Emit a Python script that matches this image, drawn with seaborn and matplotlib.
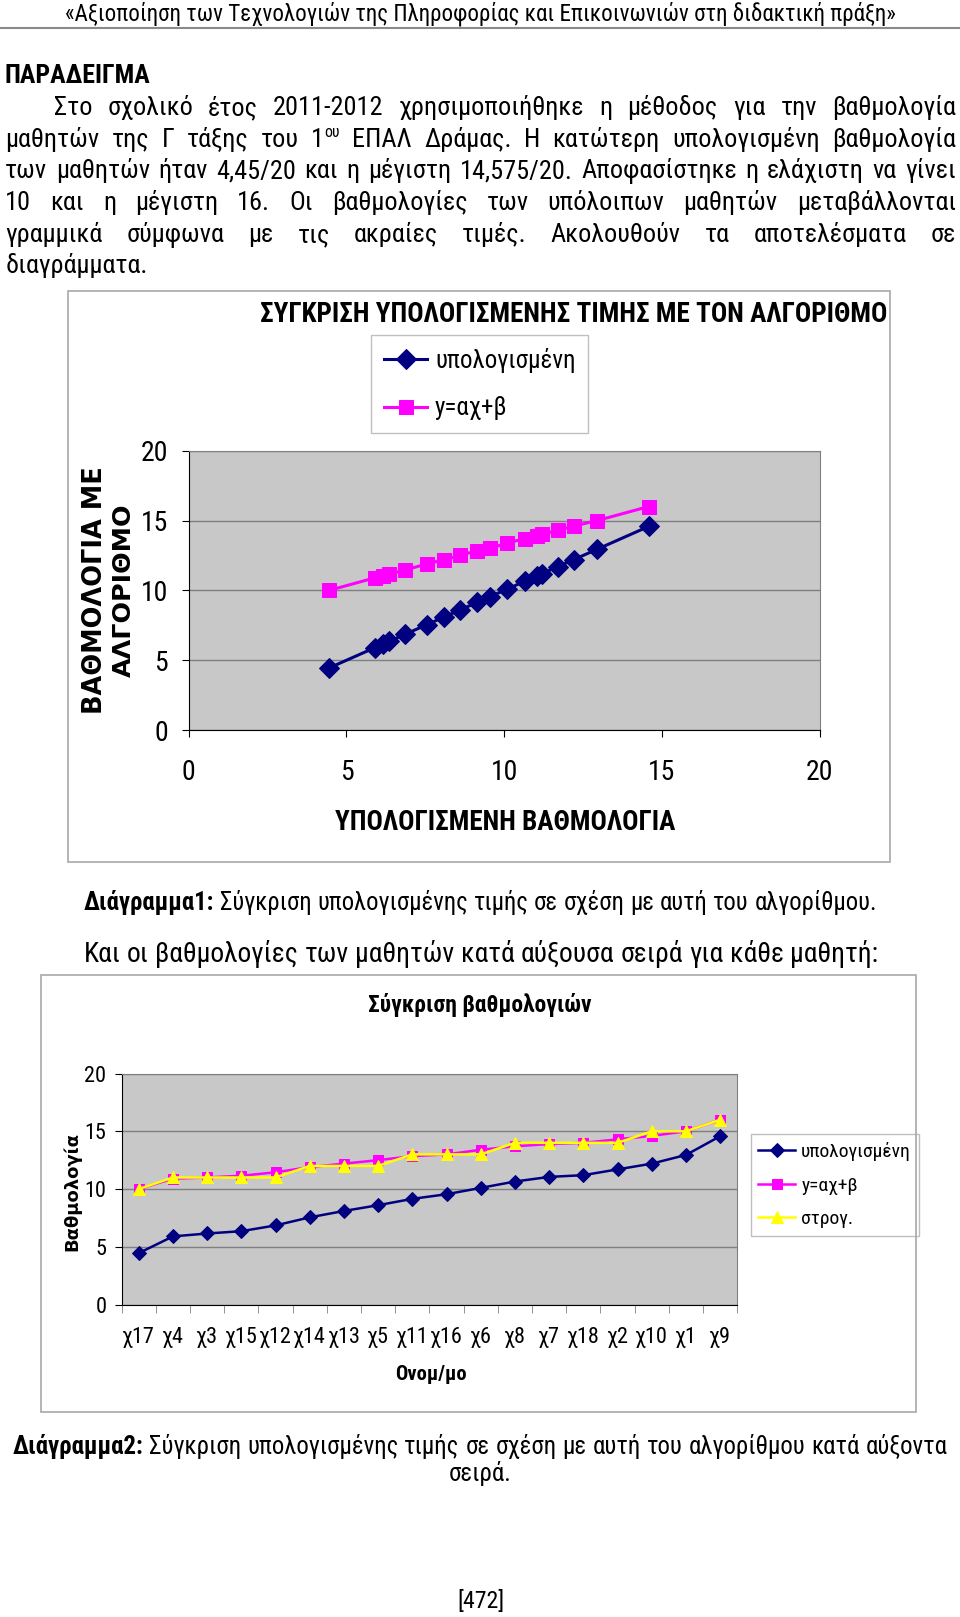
import matplotlib
matplotlib.use("Agg")
import matplotlib.pyplot as plt
import seaborn as sns
import numpy as np
from matplotlib import font_manager
from matplotlib.patches import Rectangle
from matplotlib.lines import Line2D

# values, sorted by calculated grade
students = ["χ17", "χ4", "χ3", "χ15", "χ12", "χ14", "χ13", "χ5", "χ11",
            "χ16", "χ6", "χ8", "χ7", "χ18", "χ2", "χ10", "χ1", "χ9"]
calculated = [4.45, 5.9, 6.15, 6.35, 6.85, 7.55, 8.1, 8.6, 9.15,
              9.55, 10.1, 10.65, 11.05, 11.2, 11.7, 12.2, 12.95, 14.575]
algorithm = [10.0, 10.9, 11.0, 11.15, 11.45, 11.9, 12.2, 12.5, 12.85,
             13.0, 13.4, 13.7, 13.9, 14.0, 14.3, 14.6, 15.0, 16.0]
rounded = [10, 11, 11, 11, 11, 12, 12, 12, 13, 13, 13, 14, 14, 14, 14, 15, 15, 16]
grade_ticks = [0, 5, 10, 15, 20]
series_names = ["υπολογισμένη", "y=αχ+β", "στρογ."]

header = "«Αξιοποίηση των Τεχνολογιών της Πληροφορίας και Επικοινωνιών στη διδακτική πράξη»"
paragraph = [
    "Στο σχολικό έτος 2011-2012 χρησιμοποιήθηκε η μέθοδος για την βαθμολογία",
    "μαθητών της Γ τάξης του 1^ου ΕΠΑΛ Δράμας. Η κατώτερη υπολογισμένη βαθμολογία",
    "των μαθητών ήταν 4,45/20 και η μέγιστη 14,575/20. Αποφασίστηκε η ελάχιστη να γίνει",
    "10 και η μέγιστη 16. Οι βαθμολογίες των υπόλοιπων μαθητών μεταβάλλονται",
    "γραμμικά σύμφωνα με τις ακραίες τιμές. Ακολουθούν τα αποτελέσματα σε",
    "διαγράμματα.",
]
caption1 = "*Διάγραμμα1: Σύγκριση υπολογισμένης τιμής σε σχέση με αυτή του αλγορίθμου."
intro2 = "Και οι βαθμολογίες των μαθητών κατά αύξουσα σειρά για κάθε μαθητή:"
caption2 = "*Διάγραμμα2: Σύγκριση υπολογισμένης τιμής σε σχέση με αυτή του αλγορίθμου κατά αύξοντα"

NAVY, MAG, YEL = "#000080", "#ff00ff", "#ffff00"
PLOT_BG = "#c8c8c8"

avail = {f.name for f in font_manager.fontManager.ttflist}
NARROW = next((f for f in ["Liberation Sans Narrow", "Roboto Condensed", "DejaVu Sans Condensed"]
               if f in avail), "Liberation Sans")
plt.rcParams["font.family"] = [NARROW, "DejaVu Sans"]

fig = plt.figure(figsize=(9.6, 16.17), dpi=100)
r = fig.canvas.get_renderer()
K = 960 / 931  # reference px -> figure px


def fx(x):
    return x / 931


def fy(y):
    return 1 - y / 1568


def seg_kw(size, style):
    kw = dict(fontsize=size * (0.6 if style == "s" else 1), family=[NARROW, "DejaVu Sans"])
    if style == "b":
        kw["fontweight"] = "bold"
    return kw


def seg_width(s, size, style):
    t = fig.text(0, 0, s, **seg_kw(size, style))
    w = t.get_window_extent(r).width
    t.remove()
    return w


def parse(line):
    words = []
    for w in line.split(" "):
        if w.startswith("*"):
            words.append([(w[1:], "b")])
        elif "^" in w:
            a, b = w.split("^")
            words.append([(a, "n"), (b, "s")])
        else:
            words.append([(w, "n")])
    return words


def natural(words, size):
    ws = [sum(seg_width(s, size, st) for s, st in w) for w in words]
    sp = seg_width("x x", size, "n") - seg_width("xx", size, "n")
    return ws, sp


def draw_line(line, x0, x1, y, size, mode="justify"):
    words = parse(line)
    ws, sp = natural(words, size)
    W = (x1 - x0) * K
    if mode == "justify" and len(words) > 1:
        gap = (W - sum(ws)) / (len(words) - 1)
        cur = x0 * K
    else:
        gap = sp
        total = sum(ws) + gap * (len(words) - 1)
        cur = x0 * K if mode == "left" else (x0 + x1) / 2 * K - total / 2
    em = size * 100 / 72
    base = fy(y) - 0.26 * em / 1617
    for w, wd in zip(words, ws):
        c = cur
        for s, st in w:
            yy = base + (0.4 * em / 1617 if st == "s" else 0)
            fig.text(c / 960, yy, s, va="baseline", ha="left", **seg_kw(size, st))
            c += seg_width(s, size, st)
        cur += wd + gap


def fit_size(line, x0, x1):
    ws, sp = natural(parse(line), 20)
    return 20 * (x1 - x0) * K / (sum(ws) + sp * (len(ws) - 1))


def fit_text(s, x0, x1, y, weight="normal", family=None, rotation=0, **kw):
    fam = family or [NARROW, "DejaVu Sans"]
    if rotation:
        t = fig.text(fx(x0), fy((y[0] + y[1]) / 2), s, fontsize=20, family=fam,
                     fontweight=weight, rotation=rotation, ha="center", va="center", **kw)
        h = t.get_window_extent(r).height
        t.set_fontsize(20 * (y[1] - y[0]) * K / h)
        return t
    t = fig.text(fx((x0 + x1) / 2), fy(y), s, fontsize=20, family=fam,
                 fontweight=weight, ha="center", va="center", **kw)
    w = t.get_window_extent(r).width
    t.set_fontsize(20 * (x1 - x0) * K / w)
    return t


# ---- page text ----
fit_text(header, 62, 870, 13)
fig.add_artist(Line2D([0, 1], [fy(27), fy(27)], color="#8a8a8a", lw=1.5))
fit_text("ΠΑΡΑΔΕΙΓΜΑ", 5, 146, 74, weight="bold")

para_size = min(fit_size(l, 5, 927) for l in paragraph[1:5]) * 0.97
para_y = [105, 136, 166, 197, 228, 258]
for i, (line, y) in enumerate(zip(paragraph, para_y)):
    x0 = 52 if i == 0 else 5
    draw_line(line, x0, 927, y, para_size, mode="justify" if i < 5 else "left")

draw_line(caption1, 80, 852, 876, fit_size(caption1, 80, 852), mode="center")
draw_line(intro2, 82, 851, 926, fit_size(intro2, 82, 851), mode="center")
cap2_size = fit_size(caption2, 12, 919)
draw_line(caption2, 12, 919, 1404, cap2_size, mode="justify")
draw_line("σειρά.", 12, 919, 1430, cap2_size, mode="center")
fit_text("[472]", 443, 489, 1553)

# chart frames
for (x0, y0, x1, y1) in [(66, 282, 863, 836), (40, 945, 888, 1369)]:
    fig.add_artist(Rectangle((fx(x0), fy(y1)), fx(x1) - fx(x0), fy(y0) - fy(y1),
                             transform=fig.transFigure, fill=False,
                             edgecolor="#a8a8a8", lw=1.2))


def style_axes(ax):
    ax.set_facecolor(PLOT_BG)
    ax.set_axisbelow(True)
    ax.yaxis.grid(True, color="#7f7f7f", lw=1)
    ax.xaxis.grid(False)
    for s in ["top", "right"]:
        ax.spines[s].set_color("#808080")
    for s in ["left", "bottom"]:
        ax.spines[s].set_color("black")
    ax.set_ylim(0, 20)
    ax.set_yticks(grade_ticks)
    ax.set_xlabel("")
    ax.set_ylabel("")


# ---- chart 1: algorithm grade vs calculated grade ----
ax1 = fig.add_axes([fx(183), fy(708), fx(795) - fx(183), fy(437) - fy(708)])
sns.lineplot(x=calculated, y=calculated, ax=ax1, color=NAVY, marker="D", markersize=10,
             markeredgecolor=NAVY, lw=2.2, sort=False, errorbar=None, label=series_names[0])
sns.lineplot(x=calculated, y=algorithm, ax=ax1, color=MAG, marker="s", markersize=10,
             markeredgecolor=MAG, lw=2.2, sort=False, errorbar=None, label=series_names[1])
style_axes(ax1)
ax1.set_xlim(0, 20)
ax1.set_xticks(grade_ticks)
ax1.tick_params(axis="x", length=5, labelsize=20, pad=16)
ax1.tick_params(axis="y", length=5, labelsize=20, pad=10)
ax1.legend(loc="upper left", bbox_to_anchor=(fx(360), fy(325)), bbox_transform=fig.transFigure,
           borderaxespad=0, fontsize=18, frameon=True, fancybox=False, edgecolor="#c0c0c0",
           framealpha=1, labelspacing=0.95, handlelength=1.75, handletextpad=0.3, borderpad=0.5)

fit_text("ΣΥΓΚΡΙΣΗ ΥΠΟΛΟΓΙΣΜΕΝΗΣ ΤΙΜΗΣ ΜΕ ΤΟΝ ΑΛΓΟΡΙΘΜΟ", 252, 860, 305, weight="bold")
fit_text("ΥΠΟΛΟΓΙΣΜΕΝΗ ΒΑΘΜΟΛΟΓΙΑ", 325, 655, 798, weight="bold")
fit_text("ΒΑΘΜΟΛΟΓΙΑ ΜΕ", 92, None, (452, 692), weight="bold", family="DejaVu Sans", rotation=90)
fit_text("ΑΛΓΟΡΙΘΜΟ", 120, None, (488, 656), weight="bold", family="DejaVu Sans", rotation=90)

# ---- chart 2: grades per student, ascending ----
ax2 = fig.add_axes([fx(118), fy(1265), fx(715) - fx(118), fy(1041) - fy(1265)])
sns.lineplot(x=students, y=calculated, ax=ax2, color=NAVY, marker="D", markersize=7,
             markeredgecolor=NAVY, lw=1.8, sort=False, errorbar=None, label=series_names[0])
sns.lineplot(x=students, y=algorithm, ax=ax2, color=MAG, marker="s", markersize=7,
             markeredgecolor=MAG, lw=1.8, sort=False, errorbar=None, label=series_names[1])
sns.lineplot(x=students, y=rounded, ax=ax2, color=YEL, marker="^", markersize=8,
             markeredgecolor=YEL, lw=1.8, sort=False, errorbar=None, label=series_names[2])
style_axes(ax2)
ax2.set_xlim(-0.5, len(students) - 0.5)
ax2.set_xticks(np.arange(len(students) + 1) - 0.5, minor=True)
ax2.tick_params(axis="x", which="major", length=0, labelsize=16, pad=16)
ax2.tick_params(axis="x", which="minor", length=6, color="#808080")
ax2.tick_params(axis="y", length=5, labelsize=16, pad=6)
ax2.legend(loc="upper left", bbox_to_anchor=(fx(728), fy(1100)), bbox_transform=fig.transFigure,
           borderaxespad=0, fontsize=14, frameon=True, fancybox=False, edgecolor="#c0c0c0",
           framealpha=1, labelspacing=0.8, handlelength=1.9, handletextpad=0.3, borderpad=0.4)

fit_text("Σύγκριση βαθμολογιών", 357, 573, 975, weight="bold")
fit_text("Ονομ/μο", 383, 452, 1333, weight="bold")
fit_text("Βαθμολογία", 70, None, (1097, 1213), weight="bold", family="DejaVu Sans", rotation=90)

fig.savefig("out.png", dpi=100, facecolor="white")
